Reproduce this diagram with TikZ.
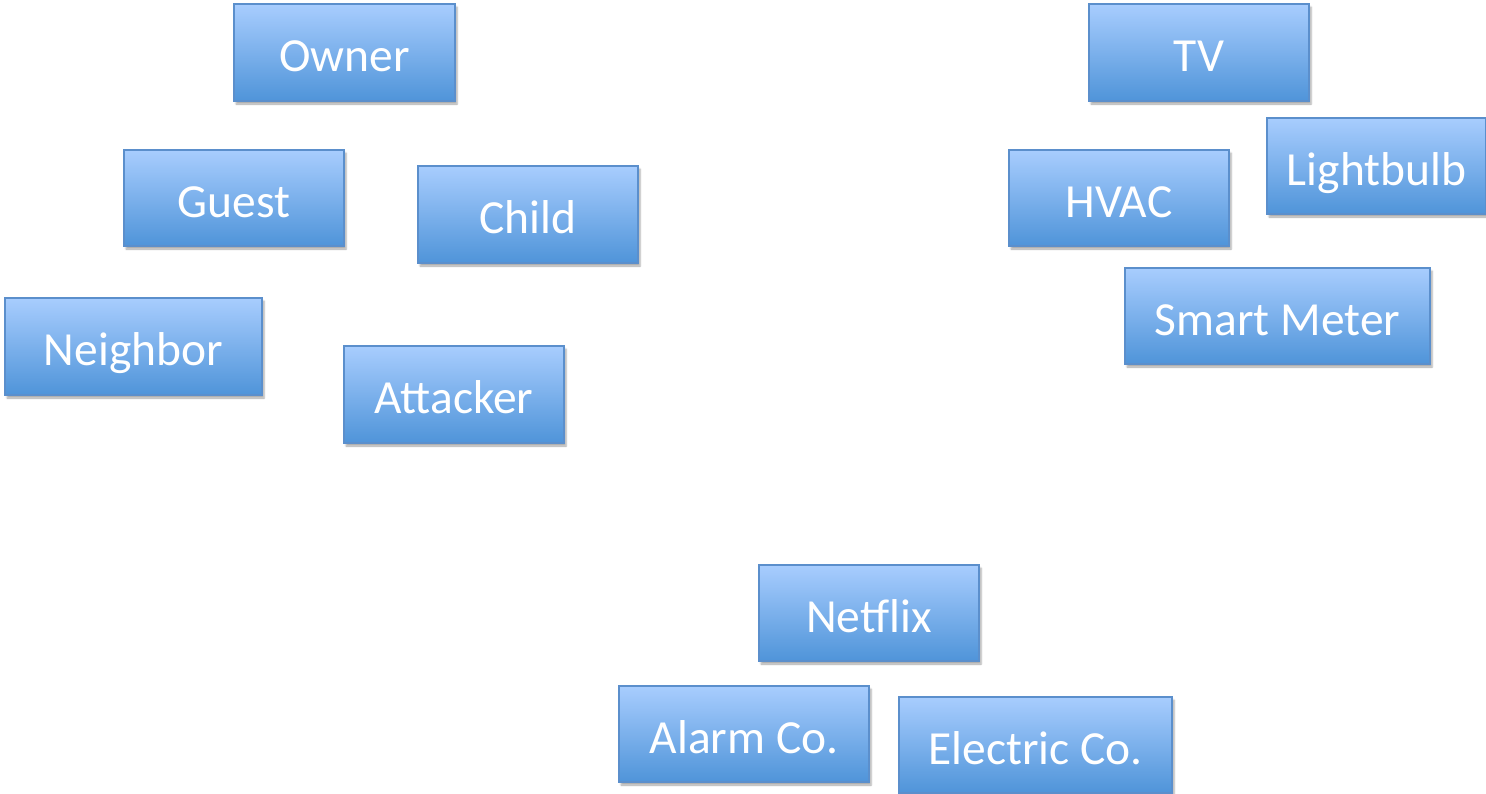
\documentclass[tikz,border=0pt]{standalone}
\usepackage{fontspec}
\setmainfont{Carlito}
\usetikzlibrary{shadows.blur}
\definecolor{boxtop}{HTML}{A8CDFE}
\definecolor{boxbot}{HTML}{4F94D9}
\definecolor{boxline}{HTML}{5B8FCC}
\tikzset{
  actor/.style={rectangle, draw=boxline, line width=1.2pt, top color=boxtop, bottom color=boxbot,
    text=white, font=\fontsize{47.5}{56}\selectfont, inner sep=0pt,
    text height=40pt, text depth=2pt,
    blur shadow={shadow xshift=2pt, shadow yshift=-3pt, shadow blur steps=5, shadow opacity=35}},
}
\newcommand{\bx}[6]{%
  \node[actor, minimum width={#4-#2}, minimum height={#5-#3}] (#1) at ({(#2+#4)/2},{-(#3+#5)/2}) {#6};}
\begin{document}
\begin{tikzpicture}[x=1pt,y=1pt]
\useasboundingbox (0,0) rectangle (1486,-793);
\bx{owner}{234}{4}{455}{101}{Owner}
\bx{tv}{1089}{4}{1309}{101}{TV}
\bx{guest}{124}{150}{344}{246}{Guest}
\bx{child}{418}{166}{638}{263}{Child}
\bx{hvac}{1009}{150}{1229}{246}{HVAC}
\bx{bulb}{1267}{118}{1486}{214}{Lightbulb}
\bx{meter}{1125}{268}{1430}{364}{Smart Meter}
\bx{neighbor}{5}{298}{262}{395}{Neighbor}
\bx{attacker}{344}{346}{564}{443}{Attacker}
\bx{netflix}{759}{565}{979}{661}{Netflix}
\bx{alarm}{619}{686}{869}{782}{Alarm Co.}
\bx{electric}{899}{697}{1172}{793}{Electric Co.}
\end{tikzpicture}
\end{document}
